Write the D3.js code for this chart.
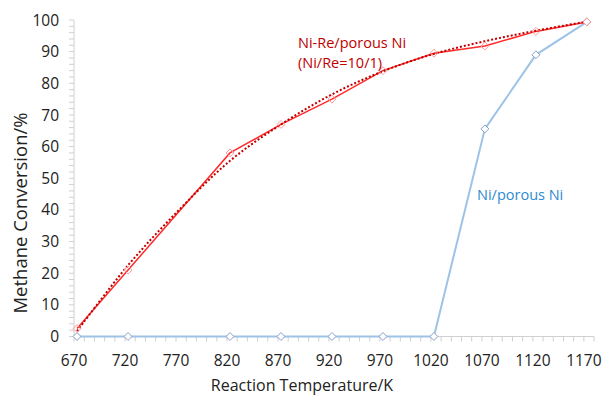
<!DOCTYPE html>
<html><head><meta charset="utf-8">
<script src="https://cdn.jsdelivr.net/npm/d3@7"></script>
<style>
html,body{margin:0;padding:0;background:#fff;}
text{font-family:"Open Sans","Noto Sans",sans-serif;}
</style></head>
<body><svg id="c" width="602" height="396"></svg>
<script>
const temps = [670, 720, 820, 870, 920, 970, 1020, 1070, 1120, 1170];
const niRe = [2.5, 21, 58, 67, 75, 84, 89.5, 91.8, 96.4, 99.4];
const niPorous = [0, 0, 0, 0, 0, 0, 0, 65.6, 89, 99.4];
const trendTemps = [670, 720, 770, 820, 870, 920, 970, 1020, 1070, 1120, 1170];
const trendVals = [1.7, 22.5, 40, 55.5, 67, 76.5, 83.8, 89.3, 93.3, 96.6, 99.5];
const xTicks = [670, 720, 770, 820, 870, 920, 970, 1020, 1070, 1120, 1170];
const yTicks = [0, 10, 20, 30, 40, 50, 60, 70, 80, 90, 100];
const xTitle = "Reaction Temperature/K";
const yTitle = "Methane Conversion/%";
const labelNiRe = ["Ni-Re/porous Ni", "(Ni/Re=10/1)"];
const labelNi = "Ni/porous Ni";

const svg = d3.select("#c");
const x = d3.scaleLinear().domain([667, 1177]).range([74, 594]);
const y = d3.scaleLinear().domain([0, 100]).range([336.5, 20]);
const axisColor = "#d0d0d0";

// y axis
const gy = svg.append("g");
gy.append("line").attr("x1", 74).attr("x2", 74).attr("y1", y(0)).attr("y2", y(100)).attr("stroke", axisColor);
gy.selectAll("line.mt").data(d3.range(0, 101, 2)).join("line").attr("class","mt")
  .attr("x1", 69).attr("x2", 74).attr("y1", d => y(d)).attr("y2", d => y(d)).attr("stroke", axisColor);
gy.selectAll("text").data(yTicks).join("text")
  .attr("x", 59).attr("y", d => y(d)).attr("dy", "0.36em").attr("text-anchor", "end")
  .attr("font-size", 15.5).attr("fill", "#222").text(d => d);

// x axis
const gx = svg.append("g");
gx.append("line").attr("x1", 74).attr("x2", 594).attr("y1", y(0)).attr("y2", y(0)).attr("stroke", axisColor);
gx.selectAll("line.mt").data(d3.range(670, 1181, 10)).join("line").attr("class","mt")
  .attr("x1", d => x(d) - 3).attr("x2", d => x(d) - 3).attr("y1", y(0)).attr("y2", y(0) + 5).attr("stroke", axisColor);
gx.selectAll("text").data(xTicks).join("text")
  .attr("x", d => x(d) - 3).attr("y", 366).attr("text-anchor", "middle")
  .attr("font-size", 15.5).attr("fill", "#222").text(d => d);

svg.append("text").attr("x", 302).attr("y", 391).attr("text-anchor", "middle")
  .attr("font-size", 16).attr("fill", "#222").text(xTitle);
svg.append("text").attr("transform", "translate(26.5,213) rotate(-90)").attr("text-anchor", "middle")
  .attr("font-size", 18.5).attr("fill", "#222").text(yTitle);

const line = d3.line().x(d => x(d[0])).y(d => y(d[1]));

// blue series
const blue = temps.map((t, i) => [t, niPorous[i]]);
svg.append("path").attr("d", line(blue)).attr("fill", "none").attr("stroke", "#9dc3e6").attr("stroke-width", 2);
// red series
const red = temps.map((t, i) => [t, niRe[i]]);
svg.append("path").attr("d", line(red)).attr("fill", "none").attr("stroke", "#ff2a2a").attr("stroke-width", 1.5);
// trendline
const trend = trendTemps.map((t, i) => [t, trendVals[i]]);
svg.append("path").attr("d", d3.line().x(d => x(d[0])).y(d => y(d[1])).curve(d3.curveCatmullRom)(trend))
  .attr("fill", "none").attr("stroke", "#c00000").attr("stroke-width", 2).attr("stroke-dasharray", "2,2");

const diamond = d3.symbol().type(d3.symbolDiamond2).size(40);
svg.selectAll("path.bm").data(blue).join("path").attr("class","bm").attr("d", diamond)
  .attr("transform", d => `translate(${x(d[0])},${y(d[1])})`)
  .attr("fill", "#fff").attr("stroke", "#8a9fcc").attr("stroke-width", 1);
svg.selectAll("path.rm").data(red).join("path").attr("class","rm").attr("d", diamond)
  .attr("transform", d => `translate(${x(d[0])},${y(d[1])})`)
  .attr("fill", "none").attr("stroke", "#ff9a9a").attr("stroke-width", 1);

svg.append("text").attr("x", 298).attr("y", 48).attr("font-size", 14.5).attr("fill", "#c00000").text(labelNiRe[0]);
svg.append("text").attr("x", 298).attr("y", 68).attr("font-size", 14.5).attr("fill", "#c00000").text(labelNiRe[1]);
svg.append("text").attr("x", 477).attr("y", 200).attr("font-size", 14.5).attr("fill", "#2e8bd0").text(labelNi);
</script></body></html>
